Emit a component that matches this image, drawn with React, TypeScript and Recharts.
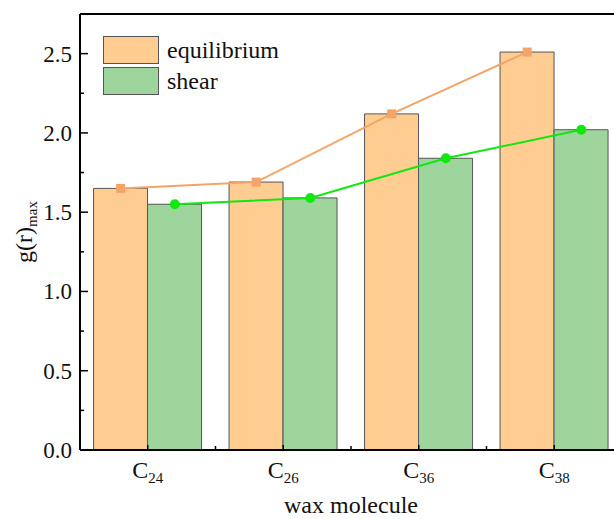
import React from "react";
import {
  ComposedChart,
  Bar,
  Line,
  XAxis,
  YAxis,
  Legend,
  Label,
  ReferenceLine,
} from "recharts";

const molecules = ["24", "26", "36", "38"];
const seriesNames = ["equilibrium", "shear"];
const equilibrium = [1.65, 1.69, 2.12, 2.51];
const shear = [1.55, 1.59, 1.84, 2.02];
const yTicks = [0, 0.25, 0.5, 0.75, 1, 1.25, 1.5, 1.75, 2, 2.25, 2.5];

const FONT = "'Liberation Serif', 'Times New Roman', serif";
const TEXT = "#111";
const BAR_ORANGE = "#FFCC91";
const BAR_GREEN = "#9DD59D";
const LINE_ORANGE = "#F5A468";
const LINE_GREEN = "#10E810";
const GAP = 0.1; // barCategoryGap as a fraction of the band

// lines sit on the centre of their own bar: offsets inside each band
const data = molecules.map((m, i) => ({
  name: m,
  equilibrium: equilibrium[i],
  shear: shear[i],
  eqX: i + GAP + (1 - 2 * GAP) / 4,
  shX: i + 0.5 + (1 - 2 * GAP) / 4,
}));

const YTick = (props: any) => {
  const { x, y, payload } = props;
  const major = Math.abs(payload.value * 2 - Math.round(payload.value * 2)) < 1e-6;
  return (
    <g>
      <line x1={x} x2={x + (major ? 8 : 4)} y1={y} y2={y} stroke="#000" strokeWidth={1.5} />
      {major && (
        <text x={x - 8} y={y + 8} textAnchor="end" fontSize={23} fontFamily={FONT} fill={TEXT}>
          {payload.value.toFixed(1)}
        </text>
      )}
    </g>
  );
};

const XTick = (props: any) => {
  const { x, y, payload, index, width, visibleTicksCount } = props;
  const half = (width || 542) / (visibleTicksCount || 4) / 2;
  return (
    <g>
      <line x1={x} x2={x} y1={y} y2={y - 5} stroke="#000" strokeWidth={1.5} />
      {index > 0 && <line x1={x - half} x2={x - half} y1={y} y2={y - 4} stroke="#000" strokeWidth={1.5} />}
      <text x={x} y={y + 28} textAnchor="middle" fontSize={24} fontFamily={FONT} fill={TEXT}>
        C<tspan fontSize={15} dy={5}>{payload.value}</tspan>
      </text>
    </g>
  );
};

const SquareDot = (props: any) => (
  <rect key={props.index} x={props.cx - 4.5} y={props.cy - 4.5} width={9} height={9} fill={LINE_ORANGE} />
);

const CircleDot = (props: any) => (
  <circle key={props.index} cx={props.cx} cy={props.cy} r={5} fill={LINE_GREEN} />
);

const LegendBox = () => (
  <div style={{ fontFamily: FONT, fontSize: 24, color: TEXT }}>
    {seriesNames.map((name, i) => (
      <div key={name} style={{ display: "flex", alignItems: "center", height: 27, marginBottom: 4 }}>
        <div
          style={{
            width: 54,
            height: 26,
            background: i === 0 ? BAR_ORANGE : BAR_GREEN,
            border: "1px solid #555",
          }}
        />
        <span style={{ marginLeft: 8, lineHeight: 1 }}>{name}</span>
      </div>
    ))}
  </div>
);

export default function App() {
  return (
    <div style={{ width: 614, height: 519, overflow: "hidden", background: "#fff" }}>
      <style>{"body{margin:0}"}</style>
      <ComposedChart
        width={630}
        height={519}
        data={data}
        margin={{ top: 14, right: 8, bottom: 0, left: 8 }}
        barCategoryGap="10%"
        barGap={0}
      >
        <XAxis
          xAxisId="cat"
          dataKey="name"
          height={69}
          interval={0}
          tickLine={false}
          tickSize={0}
          tickMargin={0}
          tick={(p: any) => <XTick {...p} />}
          axisLine={{ stroke: "#000", strokeWidth: 2 }}
        >
          <Label
            content={(p: any) => {
              const vb = p.viewBox;
              return (
                <text
                  x={vb.x + vb.width / 2}
                  y={vb.y + 63}
                  textAnchor="middle"
                  fontSize={24}
                  fontFamily={FONT}
                  fill={TEXT}
                >
                  wax molecule
                </text>
              );
            }}
          />
        </XAxis>
        <XAxis xAxisId="eq" type="number" dataKey="eqX" domain={[0, 4]} hide />
        <XAxis xAxisId="sh" type="number" dataKey="shX" domain={[0, 4]} hide />
        <YAxis
          width={72}
          domain={[0, 2.75]}
          ticks={yTicks}
          interval={0}
          allowDataOverflow
          tickLine={false}
          tickSize={0}
          tickMargin={0}
          tick={(p: any) => <YTick {...p} />}
          axisLine={{ stroke: "#000", strokeWidth: 2 }}
        >
          <Label
            content={(p: any) => {
              const vb = p.viewBox;
              const cx = vb.x + 24;
              const cy = vb.y + vb.height / 2;
              return (
                <text
                  transform={`rotate(-90 ${cx} ${cy})`}
                  x={cx}
                  y={cy}
                  textAnchor="middle"
                  fontSize={24}
                  fontFamily={FONT}
                  fill={TEXT}
                >
                  g(r)<tspan fontSize={15} dy={5}>max</tspan>
                </text>
              );
            }}
          />
        </YAxis>
        <ReferenceLine xAxisId="cat" y={2.75} stroke="#000" strokeWidth={2} />
        <Legend
          layout="vertical"
          align="center"
          verticalAlign="middle"
          wrapperStyle={{ top: 36, left: 103, width: "auto" }}
          content={() => <LegendBox />}
        />
        <Bar xAxisId="cat" dataKey="equilibrium" fill={BAR_ORANGE} stroke="#555" strokeWidth={1} isAnimationActive={false} />
        <Bar xAxisId="cat" dataKey="shear" fill={BAR_GREEN} stroke="#555" strokeWidth={1} isAnimationActive={false} />
        <Line
          xAxisId="eq"
          type="linear"
          dataKey="equilibrium"
          stroke={LINE_ORANGE}
          strokeWidth={2}
          dot={SquareDot}
          activeDot={false}
          legendType="none"
          isAnimationActive={false}
        />
        <Line
          xAxisId="sh"
          type="linear"
          dataKey="shear"
          stroke={LINE_GREEN}
          strokeWidth={2}
          dot={CircleDot}
          activeDot={false}
          legendType="none"
          isAnimationActive={false}
        />
      </ComposedChart>
    </div>
  );
}
